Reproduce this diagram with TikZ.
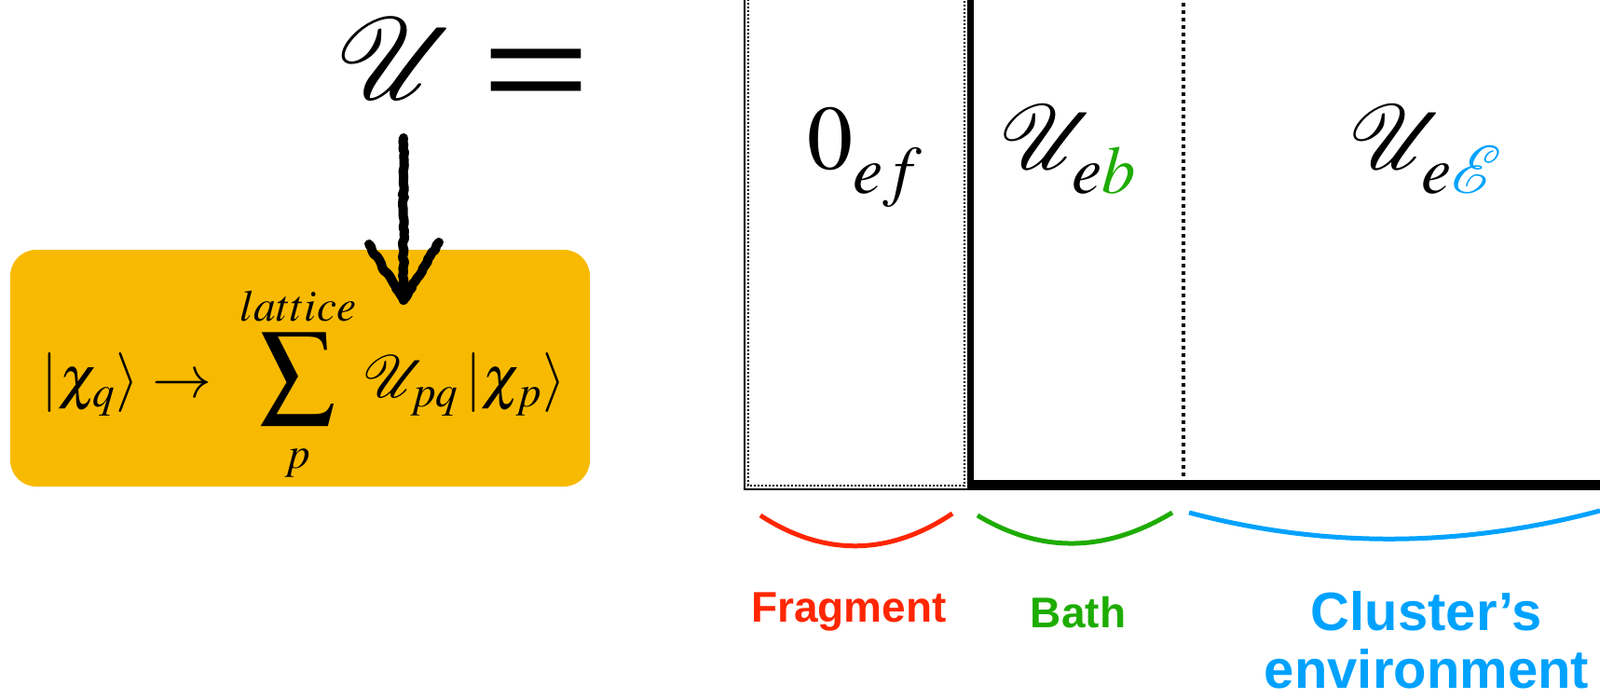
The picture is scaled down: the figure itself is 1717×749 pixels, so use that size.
\documentclass[tikz,border=0pt]{standalone}
\usepackage{mathptmx}
\usepackage{mathrsfs}
\DeclareFontFamily{U}{rsfs}{\skewchar\font127}
\DeclareFontShape{U}{rsfs}{m}{n}{<->rsfs10}{}
\usepackage{fontspec}
\setmainfont{Liberation Serif}
\newfontfamily\lblfont{Liberation Sans}
\usetikzlibrary{positioning,decorations.pathmorphing}
\definecolor{ruleorange}{RGB}{248,186,0}
\definecolor{fragred}{RGB}{255,38,0}
\definecolor{bathgreen}{RGB}{30,172,0}
\definecolor{envblue}{RGB}{0,162,255}
\newcommand{\bigsum}{\mathop{\hbox{\fontsize{40}{40}\selectfont$\displaystyle\sum$}}\limits}
\newcommand{\lowsub}[1]{\lower6pt\hbox{$\scriptstyle #1$}}

\begin{document}
\begin{tikzpicture}[
  x=0.5pt, y=-0.5pt,
  bigsym/.style={inner sep=0pt, font=\fontsize{62}{62}\selectfont},
  cell/.style={inner sep=0pt, anchor=base, font=\fontsize{49}{49}\selectfont},
  rulebox/.style={fill=ruleorange, rounded corners=14pt, minimum width=311pt, minimum height=127pt, inner sep=0pt},
  part/.style={font=\lblfont\bfseries\fontsize{23}{31}\selectfont, align=center},
  brace/.style={line width=2.5pt},
  handarr/.style={line width=5pt, line cap=round, line join=round, decorate,
    decoration={random steps, segment length=2pt, amplitude=0.6pt}}
]
\useasboundingbox (0,0) rectangle (1717,749);
% U = ...
\node[bigsym] (U) at (426,63) {$\mathscr{U}$};
\node[inner sep=0pt, anchor=base, font=\lblfont\fontsize{70}{70}\selectfont] (eq) at (576,121) {\scalebox{1.42}[1]{=}};
% the transformation rule
\node[rulebox] (rbox) at (322,395) {};
\node[inner sep=0pt, font=\fontsize{32}{32}\selectfont] (rule) at (326,412)
  {$|\chi_q\rangle \rightarrow \ \bigsum_{\rule{0pt}{18pt}p}^{lattice} \mathscr{U}_{pq}\,|\chi_p\rangle$};
\coordinate (arrtop) at (433,148);
\coordinate (arrtip) at (433,322);
\draw[handarr] (arrtop) -- (arrtip);
\draw[handarr] ([shift={(-37,-60)}]arrtip) -- (arrtip) -- ([shift={(38,-62)}]arrtip);
% matrix blocks
\draw[line width=1.2pt] (799,-5) |- (1045,525);
\draw[line width=1pt, densely dotted] (803,-5) |- (1035,521) -- (1035,-5);
\draw[line width=3.5pt] (1041,-5) -- (1041,526);
\draw[line width=5.5pt] (1038,520.5) -- (1722,520.5);
\draw[line width=2pt, dash pattern=on 2pt off 2pt] (1270,-5) -- (1270,516);
\node[cell] (zef) at (928,181) {$0_{\lowsub{ef}}$};
\node[cell] (ueb) at (1146,181) {$\mathscr{U}_{\lowsub{e\textcolor{bathgreen}{b}}}$};
\node[cell] (uee) at (1530,181) {$\mathscr{U}_{\lowsub{e\textcolor{envblue}{\mathscr{E}}}}$};
% braces and labels
\draw[brace, fragred] (816,553) .. controls (885,598) and (955,596) .. (1022,551);
\draw[brace, bathgreen] (1049,553) .. controls (1119,595) and (1188,592) .. (1258,550);
\draw[brace, envblue] (1276,550) .. controls (1423,589) and (1570,587) .. (1717,548);
\node[part, text=fragred] (frag) at (911,657) {Fragment};
\node[part, text=bathgreen] (bath) at (1157,657) {Bath};
\node[part, text=envblue, font=\lblfont\bfseries\fontsize{29}{31}\selectfont] (env) at (1531,687) {Cluster’s\\environment};
\end{tikzpicture}
\end{document}
